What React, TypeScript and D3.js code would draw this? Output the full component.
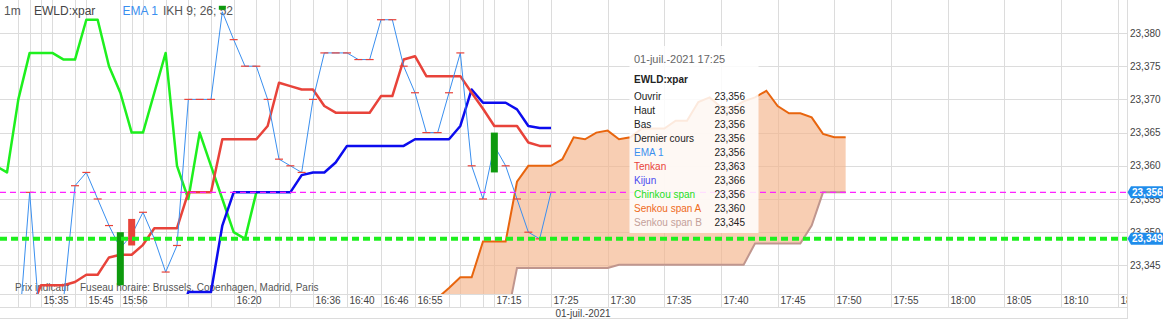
import React from "react";
import * as d3 from "d3";

const WIDTH = 1166;
const HEIGHT = 320;
const PLOT_RIGHT = 1127;
const PLOT_BOTTOM = 294;
const FONT = "'Liberation Sans', Arial, sans-serif";

// Bars are numbered from the first one on screen; bar 48 is the 17:25 print.
const closes = [
  23.334, 23.334, 23.356, 23.334, 23.334, 23.34, 23.357, 23.359, 23.355, 23.351,
  23.35, 23.348, 23.353, 23.349, 23.344, 23.348, 23.37, 23.37, 23.37, 23.3841,
  23.379, 23.375, 23.375, 23.37, 23.361, 23.36, 23.359, 23.37, 23.377, 23.377,
  23.377, 23.376, 23.376, 23.382, 23.382, 23.375, 23.371, 23.365, 23.365, 23.371,
  23.377, 23.36, 23.355, 23.365, 23.36, 23.355, 23.35, 23.349, 23.356,
];

const opens = [
  23.334, 23.334, 23.356, 23.334, 23.334, 23.34, 23.357, 23.359, 23.355, 23.351,
  23.342, 23.352, 23.353, 23.349, 23.344, 23.348, 23.37, 23.37, 23.37, 23.3835,
  23.379, 23.375, 23.375, 23.37, 23.361, 23.36, 23.359, 23.37, 23.377, 23.377,
  23.377, 23.376, 23.376, 23.382, 23.382, 23.375, 23.371, 23.365, 23.365, 23.371,
  23.377, 23.36, 23.355, 23.359, 23.36, 23.355, 23.35, 23.349, 23.356,
];

const ema1 = [
  23.334, 23.334, 23.356, 23.334, 23.334, 23.34, 23.357, 23.359, 23.355, 23.351,
  23.3476, 23.3496, 23.353, 23.349, 23.344, 23.348, 23.37, 23.37, 23.37, 23.3832,
  23.379, 23.375, 23.375, 23.37, 23.361, 23.36, 23.359, 23.37, 23.377, 23.377,
  23.377, 23.376, 23.376, 23.382, 23.382, 23.375, 23.371, 23.365, 23.365, 23.371,
  23.377, 23.36, 23.355, 23.363, 23.36, 23.355, 23.35, 23.349, 23.356,
];

const tenkan = [
  23.336, 23.336, 23.338, 23.342, 23.342, 23.342, 23.3425, 23.3436, 23.3436, 23.3462,
  23.3466, 23.3466, 23.3481, 23.3506, 23.3506, 23.3506, 23.356, 23.356, 23.356, 23.364,
  23.364, 23.364, 23.364, 23.366, 23.3725, 23.372, 23.3715, 23.3715, 23.369, 23.368,
  23.368, 23.368, 23.368, 23.3705, 23.3705, 23.376, 23.3765, 23.3735, 23.3735, 23.3735,
  23.3735, 23.371, 23.3686, 23.366, 23.366, 23.366, 23.3635, 23.363, 23.363,
];

const kijun = [
  23.332, 23.332, 23.332, 23.332, 23.332, 23.332, 23.332, 23.332, 23.332, 23.332,
  23.332, 23.332, 23.332, 23.3326, 23.3358, 23.3358, 23.341, 23.341, 23.341, 23.351,
  23.356, 23.356, 23.356, 23.356, 23.356, 23.356, 23.3586, 23.359, 23.359, 23.3605,
  23.363, 23.363, 23.363, 23.363, 23.363, 23.363, 23.364, 23.364, 23.364, 23.364,
  23.366, 23.3715, 23.3695, 23.3695, 23.3695, 23.3685, 23.366, 23.3657, 23.3657,
];

// Cloud spans start at bar 37 and run 26 bars past the last print.
const cloudStart = 37;
const senkouA = [
  23.3385, 23.3401, 23.3416, 23.3432, 23.3432, 23.3486, 23.3486, 23.3486, 23.3576, 23.36,
  23.36, 23.36, 23.361, 23.3643, 23.364, 23.365, 23.3653, 23.364, 23.3643, 23.3656,
  23.3656, 23.3656, 23.3668, 23.3668, 23.3696, 23.3703, 23.3688, 23.3688, 23.3697, 23.3703,
  23.3713, 23.369, 23.3679, 23.3679, 23.3673, 23.3648, 23.3643, 23.3643,
];
const senkouB = [
  23.334, 23.334, 23.334, 23.334, 23.334, 23.334, 23.334, 23.336, 23.3446, 23.3446,
  23.3446, 23.3446, 23.3446, 23.3446, 23.3446, 23.3446, 23.3446, 23.3451, 23.3451, 23.3451,
  23.3451, 23.3451, 23.3451, 23.3451, 23.3451, 23.3451, 23.3451, 23.3451, 23.3451, 23.3483,
  23.3483, 23.3483, 23.3483, 23.3483, 23.351, 23.356, 23.356, 23.356,
];
const chinkouShift = 26;

const refPrice = 23.349;

const yTicks = [23.345, 23.35, 23.355, 23.36, 23.365, 23.37, 23.375, 23.38];

const tickBars = [3, 7, 10, 20, 27, 30, 33, 36, 43, 48, 53, 58, 63, 68, 73, 78, 83, 88, 93, 98];
const tickLabels = [
  "15:35", "15:45", "15:56", "16:20", "16:36", "16:40", "16:46", "16:55", "17:15", "17:25",
  "17:30", "17:35", "17:40", "17:45", "17:50", "17:55", "18:00", "18:05", "18:10", "18:15",
];
const minorGridBars = [1, 2, 4, 6, 11, 12, 14, 16, 18, 22, 24, 25, 39, 40, 42, 46];

const COLORS = {
  grid: "#dcdcdc",
  ema: "#3a8fef",
  tenkan: "#e8433a",
  kijun: "#0c0cee",
  chinkou: "#1ef01e",
  spanA: "#e8650e",
  spanB: "#c0968e",
  cloud: "#f5b48a",
  up: "#0e9a0e",
  down: "#e8433a",
  last: "#ff22ff",
  badge: "#1f8ceb",
  text: "#555",
};

const fmt = (v: number) => d3.format(".3f")(v).replace(".", ",");

export default function App() {
  const x = d3.scaleLinear().domain([0, 48]).range([7, 551]);
  const y = d3.scaleLinear().domain([23.345, 23.38]).range([265.4, 33]);

  const last = closes.length - 1;
  const lastPrice = closes[last];

  const lineOf = (vals: number[], offset = 0) =>
    d3
      .line<number>()
      .x((_, i) => x(i + offset))
      .y((v) => y(v))(vals) || "";

  const cloudIdx = d3.range(senkouA.length);
  const cloudPath =
    d3
      .area<number>()
      .x((i) => x(i + cloudStart))
      .y0((i) => y(senkouB[i]))
      .y1((i) => y(senkouA[i]))(cloudIdx) || "";

  const chinkouIdx = d3.range(chinkouShift - 1, closes.length);
  const chinkouPath =
    d3
      .line<number>()
      .x((j) => x(j - chinkouShift))
      .y((j) => y(closes[j]))(chinkouIdx) || "";

  const tooltipRows: [string, number, string][] = [
    ["Ouvrir", opens[last], "#222"],
    ["Haut", Math.max(opens[last], closes[last]), "#222"],
    ["Bas", Math.min(opens[last], closes[last]), "#222"],
    ["Dernier cours", closes[last], "#222"],
    ["EMA 1", ema1[last], COLORS.ema],
    ["Tenkan", tenkan[last], COLORS.tenkan],
    ["Kijun", kijun[last], "#4a4af0"],
    ["Chinkou span", closes[last], "#22e022"],
    ["Senkou span A", senkouA[last - cloudStart], "#ee6a1a"],
    ["Senkou span B", senkouB[last - cloudStart], "#c4a09a"],
  ];

  const badge = (v: number) => {
    const cy = y(v);
    return (
      <g key={"b" + v}>
        <path
          d={`M${PLOT_RIGHT + 0.5},${cy} L${1131},${cy - 6} L${1163},${cy - 6} L${1163},${cy + 6} L${1131},${cy + 6} Z`}
          fill={COLORS.badge}
        />
        <text x={1132} y={cy + 3.6} fontSize={10} fontWeight="bold" fill="#fff" fontFamily={FONT}>
          {fmt(v)}
        </text>
      </g>
    );
  };

  return (
    <div style={{ position: "absolute", left: 0, top: 0 }}>
      <svg width={WIDTH} height={HEIGHT} style={{ display: "block", background: "#fff" }}>
        <defs>
          <clipPath id="plot">
            <rect x={0} y={0} width={PLOT_RIGHT} height={PLOT_BOTTOM} />
          </clipPath>
          <clipPath id="axis">
            <rect x={0} y={0} width={PLOT_RIGHT} height={HEIGHT} />
          </clipPath>
        </defs>

        {/* grid */}
        <g stroke={COLORS.grid} strokeWidth={1}>
          {yTicks.map((t) => (
            <line key={t} x1={0} x2={PLOT_RIGHT} y1={Math.round(y(t)) + 0.5} y2={Math.round(y(t)) + 0.5} />
          ))}
          {[...minorGridBars, ...tickBars]
            .filter((b) => x(b) < PLOT_RIGHT)
            .map((b) => (
              <line key={"v" + b} x1={Math.round(x(b)) + 0.5} x2={Math.round(x(b)) + 0.5} y1={0} y2={307} />
            ))}
          <line x1={0} x2={PLOT_RIGHT} y1={PLOT_BOTTOM + 0.5} y2={PLOT_BOTTOM + 0.5} />
          <line x1={0} x2={PLOT_RIGHT} y1={307.5} y2={307.5} />
          <line x1={0} x2={PLOT_RIGHT} y1={318.5} y2={318.5} />
          <line x1={PLOT_RIGHT + 0.5} x2={PLOT_RIGHT + 0.5} y1={0} y2={319} />
        </g>

        {/* header and footnote */}
        <g fontFamily={FONT}>
          <text x={4} y={15} fontSize={12} fill={COLORS.text}>1m</text>
          <text x={34} y={15} fontSize={12} fill="#444">EWLD:xpar</text>
          <text x={122.5} y={15} fontSize={12} fill={COLORS.ema}>EMA 1</text>
          <text x={163} y={15} fontSize={12} fill={COLORS.text}>IKH 9; 26; 52</text>
          <text x={15} y={291} fontSize={10} fill={COLORS.text}>Prix indicatif</text>
          <text x={80} y={291} fontSize={10} fill={COLORS.text}>
            Fuseau horaire: Brussels, Copenhagen, Madrid, Paris
          </text>
        </g>

        <g clipPath="url(#plot)">
          {/* kumo */}
          <path d={cloudPath} fill={COLORS.cloud} fillOpacity={0.65} />
          <path d={lineOf(senkouB, cloudStart)} fill="none" stroke={COLORS.spanB} strokeWidth={2} />
          <path d={lineOf(senkouA, cloudStart)} fill="none" stroke={COLORS.spanA} strokeWidth={2} />

          <path d={chinkouPath} fill="none" stroke={COLORS.chinkou} strokeWidth={2.5} strokeLinejoin="round" />
          <path d={lineOf(kijun)} fill="none" stroke={COLORS.kijun} strokeWidth={2.5} strokeLinejoin="round" />
          <path d={lineOf(tenkan)} fill="none" stroke={COLORS.tenkan} strokeWidth={2.5} strokeLinejoin="round" />

          <path d={lineOf(ema1)} fill="none" stroke={COLORS.ema} strokeWidth={1} />

          {/* candles: flat bars are drawn as short dashes */}
          {closes.map((c, i) => {
            const o = opens[i];
            const cx = x(i);
            if (o === c) {
              return (
                <line key={"c" + i} x1={cx - 4} x2={cx + 4} y1={y(c)} y2={y(c)} stroke={COLORS.down} strokeWidth={1.2} />
              );
            }
            const top = y(Math.max(o, c));
            const bot = y(Math.min(o, c));
            return (
              <rect
                key={"c" + i}
                x={cx - 3.5}
                y={top}
                width={7}
                height={Math.max(bot - top, 1.5)}
                fill={c > o ? COLORS.up : COLORS.down}
              />
            );
          })}

          <line x1={0} x2={PLOT_RIGHT} y1={y(refPrice)} y2={y(refPrice)} stroke={COLORS.chinkou} strokeWidth={4} strokeDasharray="7,4" />
          <line x1={0} x2={PLOT_RIGHT} y1={y(lastPrice)} y2={y(lastPrice)} stroke={COLORS.last} strokeWidth={1.2} strokeDasharray="6,4" />
        </g>

        {/* hover panel */}
        <g fontFamily={FONT}>
          <rect x={629.5} y={46} width={129} height={187} fill="#fff" fillOpacity={0.86} />
          <text x={634} y={63} fontSize={11} fill="#666">01-juil.-2021 17:25</text>
          <text x={634} y={83} fontSize={10} fontWeight="bold" fill="#222">EWLD:xpar</text>
          {tooltipRows.map(([label, v, color], r) => (
            <g key={label}>
              <text x={634} y={99.5 + r * 14.05} fontSize={10} fill={color}>{label}</text>
              <text x={745} y={99.5 + r * 14.05} fontSize={10} fill="#222" textAnchor="end">{fmt(v)}</text>
            </g>
          ))}
        </g>

        {/* axes */}
        <g fontFamily={FONT} fontSize={10} fill="#444">
          {yTicks.map((t) => (
            <text key={"y" + t} x={1130} y={y(t) + 3.6}>{fmt(t)}</text>
          ))}
          <g clipPath="url(#axis)">
            {tickBars.map((b, i) => (
              <text key={"t" + b} x={Math.round(x(b)) + 2.5} y={304.3}>{tickLabels[i]}</text>
            ))}
          </g>
          <text x={583} y={317} textAnchor="middle">01-juil.-2021</text>
        </g>

        {badge(lastPrice)}
        {badge(refPrice)}
      </svg>
    </div>
  );
}
